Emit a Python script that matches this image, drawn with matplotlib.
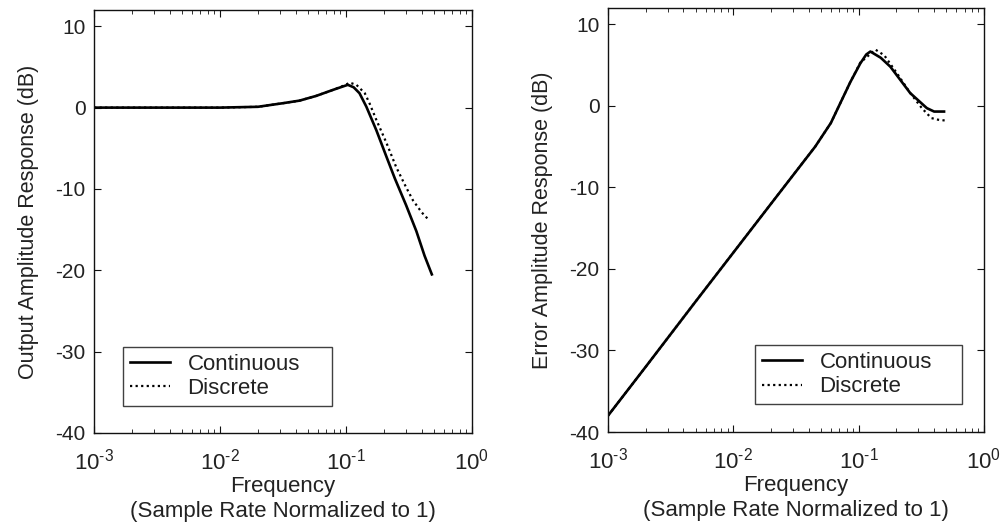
import matplotlib
matplotlib.use('Agg')
import matplotlib.pyplot as plt
import matplotlib.ticker as mticker
import numpy as np

plt.rcParams['font.family'] = ['Liberation Sans', 'DejaVu Sans']
plt.rcParams['mathtext.fontset'] = 'custom'
plt.rcParams['mathtext.rm'] = 'Liberation Sans'
plt.rcParams['mathtext.default'] = 'regular'
plt.rcParams['axes.unicode_minus'] = False

# Output amplitude response (left panel)
out_freq_cont = [0.001, 0.01, 0.02, 0.0315, 0.0428, 0.058, 0.0788, 0.0975, 0.1035,
                 0.115, 0.128, 0.145, 0.174, 0.209, 0.244, 0.3, 0.362, 0.42, 0.48]
out_db_cont = [0.0, 0.0, 0.1, 0.54, 0.86, 1.44, 2.18, 2.67, 2.8,
               2.5, 1.77, 0.12, -2.77, -6.0, -8.7, -12.0, -15.2, -18.2, -20.5]
out_freq_disc = [0.001, 0.01, 0.02, 0.0315, 0.0428, 0.058, 0.0788, 0.0975, 0.107,
                 0.121, 0.141, 0.154, 0.174, 0.209, 0.25, 0.3, 0.34, 0.4, 0.46]
out_db_disc = [0.0, 0.0, 0.1, 0.54, 0.86, 1.44, 2.18, 2.75, 3.07,
               2.8, 1.77, 0.5, -1.5, -4.3, -7.3, -9.8, -11.4, -12.9, -13.9]

# Error amplitude response (right panel)
err_freq_cont = [0.001, 0.002, 0.005, 0.01, 0.02, 0.03, 0.045, 0.06, 0.0857, 0.103,
                 0.115, 0.124, 0.15, 0.179, 0.258, 0.35, 0.4, 0.48]
err_db_cont = [-38.0, -32.0, -24.0, -18.0, -12.0, -8.5, -5.0, -2.1, 2.9, 5.2,
               6.3, 6.66, 5.9, 4.8, 1.56, -0.28, -0.7, -0.7]
err_freq_disc = [0.001, 0.002, 0.005, 0.01, 0.02, 0.03, 0.045, 0.06, 0.0857, 0.103,
                 0.136, 0.16, 0.202, 0.26, 0.32, 0.38, 0.43, 0.49]
err_db_disc = [-38.0, -32.0, -24.0, -18.0, -12.0, -8.5, -5.0, -2.1, 2.9, 5.3,
               6.9, 6.2, 4.0, 1.5, -0.3, -1.5, -1.7, -1.8]

x_tick_vals = [1e-3, 1e-2, 1e-1, 1e0]
x_tick_labels = [r'$10^{\text{-3}}$', r'$10^{\text{-2}}$', r'$10^{\text{-1}}$', r'$10^{0}$']
y_tick_vals = [-40, -30, -20, -10, 0, 10]

ylabels = ['Output Amplitude Response (dB)', 'Error Amplitude Response (dB)']
panels = [
    (out_freq_cont, out_db_cont, out_freq_disc, out_db_disc),
    (err_freq_cont, err_db_cont, err_freq_disc, err_db_disc),
]

fig = plt.figure(figsize=(10.07, 5.31), dpi=100)
ax_rects = [[94 / 1007, 1 - 433 / 531, 378 / 1007, 423 / 531],
            [608 / 1007, 1 - 432 / 531, 376 / 1007, 424 / 531]]
legend_boxes = [(0.077, 0.064, 0.553, 0.15), (0.391, 0.066, 0.55, 0.15)]

txt_color = '#222222'
for i, (rect, (fc, dc, fd, dd)) in enumerate(zip(ax_rects, panels)):
    ax = fig.add_axes(rect)
    ax.plot(fc, dc, color='black', linewidth=1.9, label='Continuous')
    ax.plot(fd, dd, color='black', linewidth=1.6, linestyle=(0, (1, 1.5)),
            label='Discrete')
    ax.set_xscale('log')
    ax.set_xlim(1e-3, 1)
    ax.set_ylim(-40, 12)
    ax.set_xticks(x_tick_vals)
    ax.set_xticklabels(x_tick_labels)
    ax.xaxis.set_minor_locator(mticker.LogLocator(base=10, subs=np.arange(2, 10)))
    ax.xaxis.set_minor_formatter(mticker.NullFormatter())
    ax.set_yticks(y_tick_vals)
    ax.tick_params(which='both', direction='in', top=True, right=True,
                   labelsize=15, colors='#111111', labelcolor=txt_color)
    ax.tick_params(which='major', length=5)
    ax.tick_params(axis='x', which='major', pad=11, labelsize=16)
    ax.tick_params(axis='y', which='major', pad=6)
    ax.tick_params(which='minor', length=3)
    for s in ax.spines.values():
        s.set_color('#111111')
        s.set_linewidth(1.0)
    ax.set_xlabel('Frequency\n(Sample Rate Normalized to 1)', fontsize=16,
                  color=txt_color, linespacing=1.28, labelpad=1)
    ax.set_ylabel(ylabels[i], fontsize=15.5, color=txt_color, labelpad=12)
    leg = ax.legend(loc='lower left', bbox_to_anchor=legend_boxes[i], mode='expand',
                    fontsize=16, frameon=True, fancybox=False, edgecolor='#111111',
                    handlelength=1.8, handletextpad=0.8, borderpad=0.3,
                    labelspacing=0.15, borderaxespad=0.0)
    leg.get_frame().set_linewidth(1.0)
    for t in leg.get_texts():
        t.set_color(txt_color)

fig.savefig('out.png', dpi=100, facecolor='white')
